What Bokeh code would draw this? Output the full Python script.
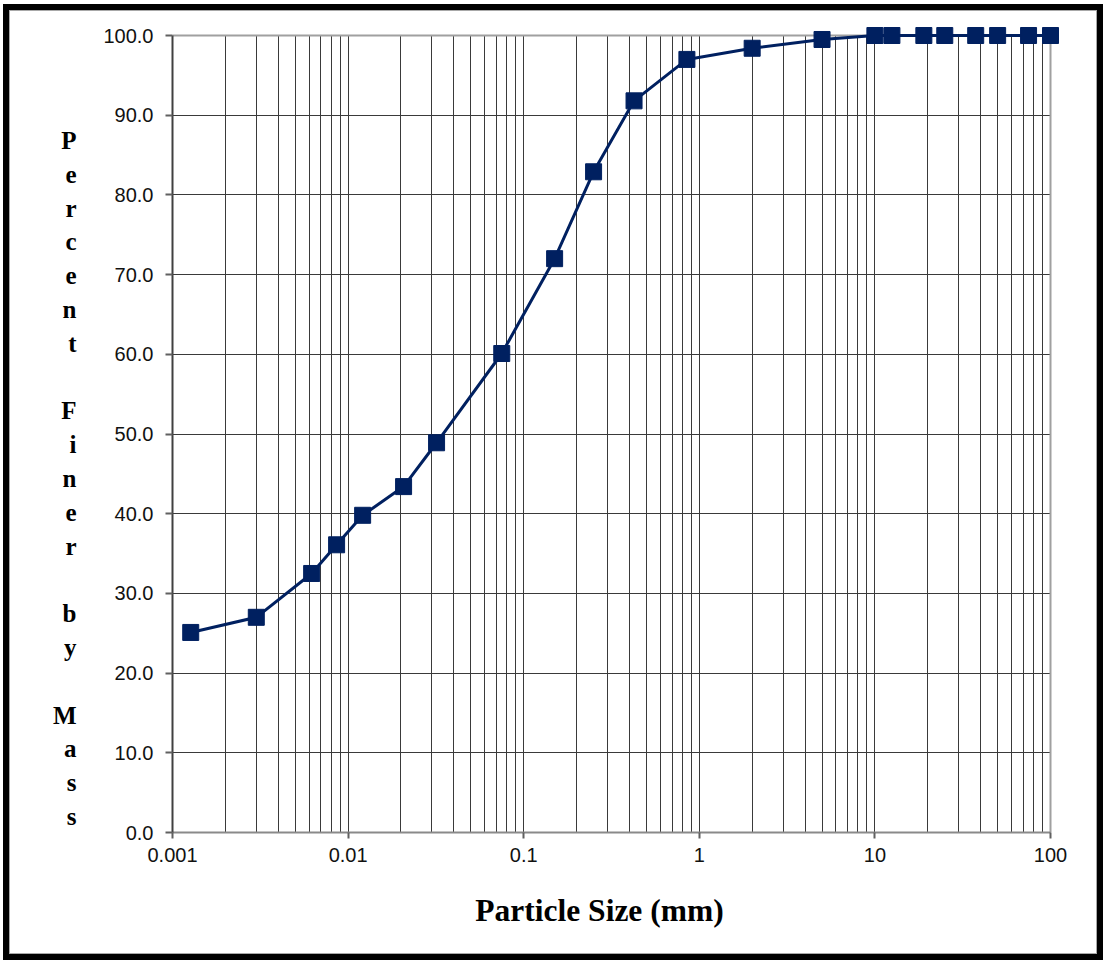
from bokeh.plotting import figure
from bokeh.models import (Range1d, FixedTicker, PrintfTickFormatter, LinearAxis, LinearScale, Column)
from bokeh.embed import file_html
from bokeh.resources import INLINE

# ---- data ----
size_mm = [0.00127, 0.0030, 0.0062, 0.0086, 0.0121, 0.0207, 0.0319, 0.075, 0.15,
           0.25, 0.425, 0.85, 2.0, 5.0, 10.0, 12.5, 19.0, 25.0, 37.5, 50.0, 75.0, 100.0]
pct_finer = [25.1, 27.0, 32.5, 36.1, 39.8, 43.4, 48.9, 60.1, 72.0,
             82.9, 91.8, 97.0, 98.4, 99.5, 100.0, 100.0, 100.0, 100.0, 100.0, 100.0, 100.0, 100.0]
x_ticks = [0.001, 0.01, 0.1, 1, 10, 100]
x_tick_labels = ["0.001", "0.01", "0.1", "1", "10", "100"]
x_minor = [m * d for d in [0.001, 0.01, 0.1, 1, 10] for m in range(2, 10)]
y_ticks = [0, 10, 20, 30, 40, 50, 60, 70, 80, 90, 100]
y_label_text = "Percent Finer by Mass"
x_label_text = "Particle Size (mm)"

# ---- layout (figure-relative pixels; figure sits inside a black + gray frame) ----
OX, OY = 10, 11
W, H = 1088, 944
L, RE, T, BE = 172 - OX, 1050 - OX, 35 - OY, 832 - OY
PAD = 12
DEC = (RE - L) / 5.0
YPX = (BE - T) / 100.0

p = figure(width=W, height=H, x_axis_type="log",
           x_range=Range1d(x_ticks[0], 10 ** (2 + PAD / DEC)),
           y_range=Range1d(y_ticks[0], 100 + PAD / YPX),
           extra_y_ranges={"ylab": Range1d(BE, T - PAD)},
           extra_x_ranges={"xlab": Range1d(L, RE + PAD)},
           extra_y_scales={"ylab": LinearScale()},
           extra_x_scales={"xlab": LinearScale()},
           output_backend="svg", toolbar_location=None,
           min_border_left=L, min_border_right=W - RE - PAD,
           min_border_top=T - PAD, min_border_bottom=H - BE,
           styles={"border": "1px solid #a8a8a8"})
p.outline_line_color = None
p.background_fill_color = "white"
p.border_fill_color = "white"

xa = p.xaxis[0]
ya = p.yaxis[0]

xa.ticker = FixedTicker(ticks=x_ticks, minor_ticks=x_minor)
xa.major_label_overrides = dict(zip(x_ticks, x_tick_labels))
xa.bounds = (x_ticks[0], x_ticks[-1])
ya.ticker = FixedTicker(ticks=y_ticks)
ya.formatter = PrintfTickFormatter(format="%.1f")
ya.bounds = (y_ticks[0], y_ticks[-1])

for ax in (xa, ya):
    ax.major_label_text_font = "Liberation Sans"
    ax.major_label_text_font_size = "20px"
    ax.major_label_text_color = "#111111"
    ax.minor_tick_out = 0
    ax.minor_tick_in = 0
    ax.major_tick_in = 0
    ax.major_tick_line_color = "#606060"
    ax.major_tick_line_width = 2
xa.major_tick_out = 6
xa.major_label_standoff = 9
xa.axis_line_color = "#8a8a8a"
xa.axis_line_width = 2
ya.major_tick_out = 7
ya.major_label_standoff = 12
ya.axis_line_color = "#404040"
ya.axis_line_width = 2

# grid
p.xgrid.grid_line_color = "#3a3a3a"
p.xgrid.minor_grid_line_color = "#3a3a3a"
p.xgrid.grid_line_width = 1
p.xgrid.minor_grid_line_width = 1
p.xgrid.cross_bounds = (y_ticks[0], y_ticks[-1])
p.ygrid.grid_line_color = "#3a3a3a"
p.ygrid.grid_line_width = 1
p.ygrid.cross_bounds = (x_ticks[0], x_ticks[-1])

# top / right plot-area edges
p.segment(x0=[x_ticks[0], x_ticks[-1]], y0=[y_ticks[-1], y_ticks[0]],
          x1=[x_ticks[-1], x_ticks[-1]], y1=[y_ticks[-1], y_ticks[-1]],
          line_color="#a0a0a0", line_width=2)

# data
p.line(size_mm, pct_finer, line_color="#002060", line_width=3)
p.scatter(size_mm, pct_finer, marker="square", size=16,
          fill_color="#002060", line_color="#002060")

# y title: stacked letters, placed as labels of a bare axis
rows, letters = [], []
for k, ch in enumerate(y_label_text):
    if ch != " ":
        rows.append(round(140 - OY + 33.8 * k))
        letters.append(ch)
ylab_axis = LinearAxis(y_range_name="ylab", ticker=FixedTicker(ticks=rows),
                       major_label_overrides=dict(zip(rows, letters)),
                       axis_line_color=None, major_tick_line_color=None,
                       minor_tick_line_color=None, major_tick_out=0, minor_tick_out=0,
                       major_label_standoff=24,
                       major_label_text_font="Liberation Serif",
                       major_label_text_font_style="bold",
                       major_label_text_font_size="25px",
                       major_label_text_color="black")
p.add_layout(ylab_axis, "left")

# x title, as the single label of a bare axis
xpos = [599 - OX]
xlab_axis = LinearAxis(x_range_name="xlab", ticker=FixedTicker(ticks=xpos),
                       major_label_overrides=dict(zip(xpos, [x_label_text])),
                       axis_line_color=None, major_tick_line_color=None,
                       minor_tick_line_color=None, major_tick_out=0, minor_tick_out=0,
                       major_label_standoff=28,
                       major_label_text_font="Liberation Serif",
                       major_label_text_font_style="bold",
                       major_label_text_font_size="31.5px",
                       major_label_text_color="black")
p.add_layout(xlab_axis, "below")

root = Column(children=[p], styles={"border": "6px solid black",
                                    "margin-left": "3px", "margin-top": "4px"})

open("out.html", "w").write(file_html(root, INLINE))
